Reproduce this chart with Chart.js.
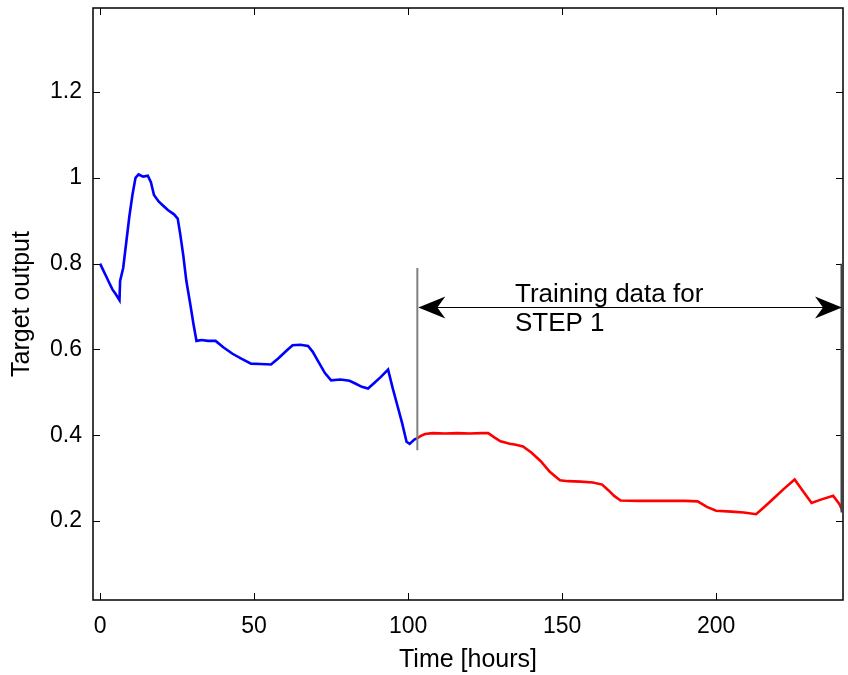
<!DOCTYPE html>
<html><head><meta charset="utf-8">
<script src="https://cdn.jsdelivr.net/npm/chart.js@4/dist/chart.umd.min.js"></script>
<style>html,body{margin:0;padding:0;background:#fff}</style>
</head><body>
<canvas id="c" width="848" height="675"></canvas>
<script>
// ---- data ----
const blueX = [0,1,2,3,4,5,6.3,6.5,7.5,8.5,9.5,10.5,11.5,12.5,14,15.5,16.5,17.5,19,20.5,22,24,25.2,26,27,28,29.3,30.3,31.3,33,35,37.5,40,43,46,49,52,55.5,58,60.5,62.5,65,67.5,69,71,73,75,78,81,83,85,87,89,91,93.5,95,96.5,98,99.5,100.5,102,103];
const blueY = [0.80,0.785,0.77,0.755,0.74,0.73,0.715,0.76,0.79,0.85,0.91,0.96,1.0,1.008,1.003,1.005,0.99,0.96,0.945,0.935,0.925,0.915,0.905,0.87,0.82,0.76,0.705,0.66,0.62,0.622,0.62,0.62,0.605,0.59,0.578,0.567,0.566,0.565,0.58,0.597,0.61,0.611,0.608,0.595,0.57,0.545,0.528,0.53,0.527,0.52,0.513,0.509,0.522,0.535,0.553,0.51,0.47,0.43,0.385,0.38,0.39,0.393];
const redX = [103,104,105.5,108,112,116,120,124,126,128,130,133,135,137.3,140,143,146,149.3,152,156,160,163,165,167,169,175,180,185,190,194,197,200,205,209,213,216,219,222,225.5,228,231,234,238,240,241.2];
const redY = [0.393,0.398,0.403,0.405,0.404,0.405,0.404,0.405,0.405,0.395,0.386,0.38,0.378,0.374,0.36,0.34,0.315,0.295,0.293,0.292,0.29,0.285,0.272,0.258,0.248,0.247,0.247,0.247,0.247,0.246,0.233,0.224,0.222,0.22,0.216,0.235,0.255,0.275,0.297,0.272,0.242,0.25,0.259,0.24,0.222];
const xTicks = [0,50,100,150,200];
const yTicks = [0.2,0.4,0.6,0.8,1.0,1.2];
const xRange = [-2.3, 241.2];
const yRange = [0.016, 1.396];
// annotation values
const stepStartX = 103;
const stepEndX = 241.2;
const stepStartLine = [0.365, 0.79];
const stepEndLine = [0.22, 0.80];
const arrowY = 0.70;
const noteX = 134.7;
const noteLines = ["Training data for", "STEP 1"];
const noteY = [0.71, 0.642];
const xTitle = "Time [hours]";
const yTitle = "Target output";

const toPts = (xs, ys) => xs.map((x, i) => ({x: x, y: ys[i]}));

const FONT = "'Liberation Sans', Arial, sans-serif";

function arrowHead(ctx, tipX, y, dir) {
  const L = 27, H = 11, N = 8;
  ctx.beginPath();
  ctx.moveTo(tipX, y);
  ctx.lineTo(tipX + dir * L, y - H);
  ctx.lineTo(tipX + dir * (L - N), y);
  ctx.lineTo(tipX + dir * L, y + H);
  ctx.closePath();
  ctx.fill();
}

const decor = {
  id: 'decor',
  beforeDraw(chart) {
    const ctx = chart.ctx;
    ctx.save();
    ctx.fillStyle = '#fff';
    ctx.fillRect(0, 0, chart.width, chart.height);
    ctx.restore();
  },
  afterDraw(chart) {
    const ctx = chart.ctx;
    const a = chart.chartArea;
    const xs = chart.scales.x, ys = chart.scales.y;
    ctx.save();
    ctx.strokeStyle = '#000';
    ctx.lineWidth = 1;
    const tl = 7;
    xTicks.forEach(v => {
      const px = Math.round(xs.getPixelForValue(v)) + 0.5;
      ctx.beginPath();
      ctx.moveTo(px, a.bottom); ctx.lineTo(px, a.bottom - tl);
      ctx.moveTo(px, a.top); ctx.lineTo(px, a.top + tl);
      ctx.stroke();
    });
    yTicks.forEach(v => {
      const py = Math.round(ys.getPixelForValue(v)) + 0.5;
      ctx.beginPath();
      ctx.moveTo(a.left, py); ctx.lineTo(a.left + tl, py);
      ctx.moveTo(a.right, py); ctx.lineTo(a.right - tl, py);
      ctx.stroke();
    });
    ctx.lineWidth = 1.5;
    ctx.strokeRect(a.left, a.top, a.right - a.left, a.bottom - a.top);

    const x1 = xs.getPixelForValue(stepStartX);
    const x2 = xs.getPixelForValue(stepEndX);
    ctx.strokeStyle = '#808080';
    ctx.lineWidth = 2;
    ctx.beginPath();
    ctx.moveTo(x1, ys.getPixelForValue(stepStartLine[0]));
    ctx.lineTo(x1, ys.getPixelForValue(stepStartLine[1]));
    ctx.stroke();
    ctx.strokeStyle = '#404040';
    ctx.lineWidth = 3;
    ctx.beginPath();
    ctx.moveTo(x2 - 1, ys.getPixelForValue(stepEndLine[0]));
    ctx.lineTo(x2 - 1, ys.getPixelForValue(stepEndLine[1]));
    ctx.stroke();

    const ay = Math.round(ys.getPixelForValue(arrowY)) + 0.5;
    ctx.strokeStyle = '#000';
    ctx.lineWidth = 1.2;
    ctx.beginPath();
    ctx.moveTo(x1 + 2, ay); ctx.lineTo(x2 - 2, ay);
    ctx.stroke();
    ctx.fillStyle = '#000';
    arrowHead(ctx, x1 + 1, ay, 1);
    arrowHead(ctx, x2 - 1, ay, -1);

    ctx.fillStyle = '#000';
    ctx.font = '26px ' + FONT;
    ctx.textAlign = 'left';
    ctx.textBaseline = 'alphabetic';
    const tx = xs.getPixelForValue(noteX);
    noteLines.forEach((t, i) => ctx.fillText(t, tx, ys.getPixelForValue(noteY[i])));
    ctx.restore();
  }
};

new Chart(document.getElementById('c'), {
  type: 'scatter',
  data: {
    datasets: [
      {data: toPts(blueX, blueY), showLine: true, borderColor: '#0000ff', borderWidth: 2.6, pointRadius: 0, tension: 0},
      {data: toPts(redX, redY), showLine: true, borderColor: '#ff0000', borderWidth: 2.6, pointRadius: 0, tension: 0}
    ]
  },
  options: {
    responsive: false,
    animation: false,
    events: [],
    layout: {padding: {left: 0, right: 5, top: 8, bottom: 0}},
    plugins: {legend: {display: false}, tooltip: {enabled: false}},
    scales: {
      x: {
        type: 'linear', position: 'bottom',
        min: xRange[0], max: xRange[1],
        grid: {display: false, drawTicks: false}, border: {display: false},
        afterBuildTicks: s => { s.ticks = xTicks.map(v => ({value: v})); },
        afterFit: s => { s.height = 75; s.paddingLeft = 0; s.paddingRight = 0; },
        ticks: {color: '#000', padding: 13, maxRotation: 0, font: {family: FONT, size: 23},
                callback: v => String(v)},
        title: {display: true, text: xTitle, color: '#000', font: {family: FONT, size: 25}, padding: {top: 0, bottom: 0}}
      },
      y: {
        type: 'linear', position: 'left',
        min: yRange[0], max: yRange[1],
        grid: {display: false, drawTicks: false}, border: {display: false},
        afterBuildTicks: s => { s.ticks = yTicks.map(v => ({value: v})); },
        afterFit: s => { s.width = 93; s.paddingTop = 0; s.paddingBottom = 0; },
        ticks: {color: '#000', padding: 11, font: {family: FONT, size: 23},
                callback: v => String(Number(v.toFixed(1)))},
        title: {display: true, text: yTitle, color: '#000', font: {family: FONT, size: 25}, padding: {top: 7, bottom: 0}}
      }
    }
  },
  plugins: [decor]
});
</script>
</body></html>
